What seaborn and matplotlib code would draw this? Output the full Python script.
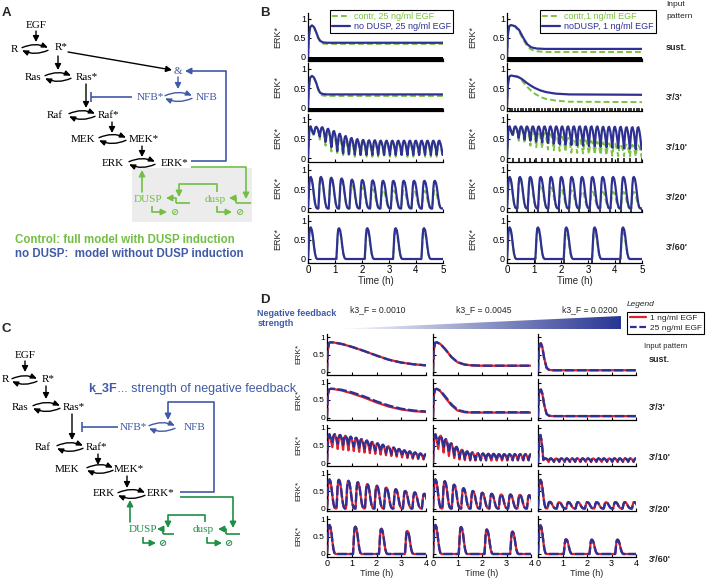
import numpy as np
import matplotlib
matplotlib.use("Agg")
import matplotlib.pyplot as plt
import seaborn as sns
from matplotlib.patches import Polygon, Rectangle
from matplotlib.lines import Line2D
from matplotlib.colors import LinearSegmentedColormap

sns.set_style("ticks")
plt.rcParams['font.family'] = ['Liberation Sans', 'DejaVu Sans']

# ---------------- colours ----------------
BLUE_B = '#2e3192'
GREEN_B = '#7cc242'
BLUE_A = '#3f5aa8'
GREEN_A = '#72bf44'
GREEN_C = '#1f8f47'
RED_D = '#e0202a'

# ---------------- common ----------------
PATTERNS = ["sust.", "3'/3'", "3'/10'", "3'/20'", "3'/60'"]
PERIOD_310 = 0.2167   # h, 3 min on / 10 min off
PERIOD_320 = 0.3833   # h, 3 min on / 20 min off
PERIOD_360 = 1.05     # h, 3 min on / 60 min off
PERIOD_33 = 0.1       # h, 3 min on / 3 min off

# ---------------- Panel B data (25 ng/ml left, 1 ng/ml right) ----------------
B_T_EARLY = [0, 0.03, 0.08, 0.15, 0.22, 0.3, 0.38, 0.45, 0.55, 0.7, 5.0]
B25_SUST_NODUSP = [0, 0.5, 0.78, 0.82, 0.78, 0.65, 0.5, 0.42, 0.38, 0.37, 0.37]
B25_SUST_CONTR = [0, 0.5, 0.78, 0.82, 0.78, 0.65, 0.48, 0.4, 0.35, 0.34, 0.34]
B25_33_NODUSP = [0, 0.5, 0.78, 0.82, 0.78, 0.65, 0.48, 0.38, 0.35, 0.34, 0.34]
B25_33_CONTR = [0, 0.5, 0.78, 0.82, 0.78, 0.64, 0.45, 0.35, 0.31, 0.30, 0.30]

B1_T_SUST = [0, 0.03, 0.08, 0.15, 0.3, 0.45, 0.6, 0.75, 0.9, 1.1, 1.4, 5.0]
B1_SUST_NODUSP = [0, 0.55, 0.8, 0.83, 0.8, 0.7, 0.5, 0.33, 0.25, 0.22, 0.21, 0.21]
B1_SUST_CONTR = [0, 0.55, 0.8, 0.83, 0.79, 0.66, 0.45, 0.28, 0.19, 0.15, 0.13, 0.13]
B1_T_33 = [0, 0.03, 0.08, 0.15, 0.4, 0.55, 0.73, 0.9, 1.05, 1.25, 1.45, 1.8, 2.3, 5.0]
B1_33_NODUSP = [0, 0.55, 0.8, 0.83, 0.8, 0.74, 0.64, 0.56, 0.5, 0.44, 0.4, 0.36, 0.34, 0.33]
B1_33_CONTR = [0, 0.55, 0.8, 0.83, 0.79, 0.7, 0.55, 0.43, 0.35, 0.27, 0.22, 0.18, 0.15, 0.14]

B25_310_NODUSP_PK = [0.82, 0.81, 0.8, 0.76, 0.7, 0.63, 0.57, 0.52, 0.49, 0.47, 0.46, 0.46,
                     0.45, 0.45, 0.45, 0.45, 0.45, 0.45, 0.45, 0.45, 0.45, 0.45, 0.45]
B25_310_NODUSP_TR = [0.62, 0.55, 0.42, 0.28, 0.18, 0.12, 0.1, 0.09, 0.08, 0.08, 0.08, 0.08,
                     0.08, 0.08, 0.08, 0.08, 0.08, 0.08, 0.08, 0.08, 0.08, 0.08, 0.08]
B25_310_CONTR_PK = [0.82, 0.8, 0.77, 0.7, 0.62, 0.53, 0.47, 0.43, 0.41, 0.4, 0.4, 0.4,
                    0.4, 0.4, 0.4, 0.4, 0.4, 0.4, 0.4, 0.4, 0.4, 0.4, 0.4]
B25_310_CONTR_TR = [0.58, 0.48, 0.32, 0.17, 0.08, 0.04, 0.03, 0.03, 0.03, 0.03, 0.03, 0.03,
                    0.03, 0.03, 0.03, 0.03, 0.03, 0.03, 0.03, 0.03, 0.03, 0.03, 0.03]
B1_310_NODUSP_PK = [0.82, 0.82, 0.82, 0.82, 0.82, 0.82, 0.82, 0.82, 0.82, 0.82, 0.82, 0.82,
                    0.82, 0.82, 0.82, 0.82, 0.81, 0.81, 0.81, 0.81, 0.8, 0.8, 0.8]
B1_310_NODUSP_TR = [0.6, 0.52, 0.48, 0.45, 0.43, 0.41, 0.39, 0.37, 0.36, 0.35, 0.34, 0.33,
                    0.32, 0.31, 0.3, 0.29, 0.28, 0.27, 0.26, 0.25, 0.24, 0.23, 0.22]
B1_310_CONTR_PK = [0.82, 0.8, 0.78, 0.75, 0.72, 0.68, 0.65, 0.62, 0.58, 0.55, 0.52, 0.5,
                   0.48, 0.46, 0.44, 0.42, 0.4, 0.38, 0.37, 0.36, 0.35, 0.34, 0.33]
B1_310_CONTR_TR = [0.55, 0.45, 0.38, 0.32, 0.28, 0.25, 0.22, 0.2, 0.18, 0.16, 0.14, 0.13,
                   0.12, 0.1, 0.09, 0.08, 0.07, 0.06, 0.05, 0.05, 0.04, 0.04, 0.03]

B25_320_NODUSP = [0.82, 0.82, 0.8, 0.78, 0.75, 0.74, 0.73, 0.72, 0.72, 0.72, 0.72, 0.72, 0.72]
B25_320_CONTR = [0.82, 0.8, 0.75, 0.68, 0.6, 0.55, 0.5, 0.48, 0.47, 0.46, 0.46, 0.46, 0.46]
B1_320_NODUSP = [0.82, 0.82, 0.82, 0.82, 0.82, 0.82, 0.82, 0.82, 0.82, 0.82, 0.82, 0.82, 0.82]
B1_320_CONTR = [0.82, 0.8, 0.72, 0.62, 0.55, 0.5, 0.47, 0.45, 0.44, 0.43, 0.43, 0.43, 0.43]

B25_360_NODUSP = [0.82, 0.8, 0.8, 0.8, 0.8]
B25_360_CONTR = [0.82, 0.74, 0.7, 0.7, 0.7]
B1_360_NODUSP = [0.82, 0.82, 0.82, 0.82, 0.82]
B1_360_CONTR = [0.82, 0.72, 0.68, 0.68, 0.68]

# ---------------- Panel D data (columns: k3_F = 0.0010, 0.0045, 0.0200) ----------------
K3F_LABELS = ["k3_F = 0.0010", "k3_F = 0.0045", "k3_F = 0.0200"]
D_T_SUST = [[0, 0.03, 0.08, 0.15, 0.3, 0.6, 1.0, 1.5, 2.0, 2.5, 3.0, 3.5, 4.0],
            [0, 0.03, 0.08, 0.15, 0.3, 0.5, 0.75, 1.0, 1.3, 1.6, 2.0, 4.0],
            [0, 0.03, 0.07, 0.12, 0.18, 0.25, 0.35, 0.45, 0.6, 4.0]]
D_SUST = [[0, 0.6, 0.83, 0.85, 0.84, 0.8, 0.72, 0.6, 0.47, 0.35, 0.27, 0.22, 0.19],
          [0, 0.6, 0.83, 0.85, 0.8, 0.65, 0.43, 0.28, 0.21, 0.19, 0.18, 0.18],
          [0, 0.6, 0.8, 0.82, 0.7, 0.4, 0.12, 0.06, 0.05, 0.05]]
D_33_25NG = [[0, 0.6, 0.8, 0.82, 0.82, 0.79, 0.72, 0.6, 0.46, 0.34, 0.25, 0.2, 0.17],
             [0, 0.6, 0.8, 0.82, 0.77, 0.6, 0.38, 0.22, 0.16, 0.15, 0.15, 0.15],
             [0, 0.6, 0.78, 0.8, 0.68, 0.38, 0.1, 0.05, 0.04, 0.04]]
D_33_1NG = [[0, 0.6, 0.8, 0.82, 0.81, 0.77, 0.69, 0.57, 0.43, 0.31, 0.23, 0.18, 0.16],
            [0, 0.6, 0.8, 0.82, 0.75, 0.57, 0.35, 0.2, 0.15, 0.14, 0.14, 0.14],
            [0, 0.6, 0.78, 0.8, 0.67, 0.37, 0.1, 0.05, 0.04, 0.04]]
D_310_PK = [[0.82, 0.82, 0.8, 0.78, 0.75, 0.72, 0.68, 0.64, 0.6, 0.56, 0.52, 0.48, 0.44, 0.4,
             0.36, 0.33, 0.3, 0.27, 0.25],
            [0.82, 0.78, 0.68, 0.56, 0.46, 0.38, 0.33, 0.3, 0.28, 0.27, 0.26, 0.26, 0.25, 0.25,
             0.25, 0.25, 0.25, 0.25, 0.25],
            [0.8, 0.13, 0.13, 0.13, 0.13, 0.13, 0.13, 0.13, 0.13, 0.13, 0.13, 0.13, 0.13, 0.13,
             0.13, 0.13, 0.13, 0.13, 0.13]]
D_310_TR_25NG = [[0.6, 0.55, 0.52, 0.5, 0.47, 0.44, 0.41, 0.38, 0.35, 0.32, 0.29, 0.26, 0.23, 0.2,
                  0.18, 0.16, 0.14, 0.12, 0.1],
                 [0.55, 0.42, 0.3, 0.22, 0.16, 0.12, 0.1, 0.09, 0.09, 0.09, 0.09, 0.09, 0.09, 0.09,
                  0.09, 0.09, 0.09, 0.09, 0.09],
                 [0.1, 0.04, 0.04, 0.04, 0.04, 0.04, 0.04, 0.04, 0.04, 0.04, 0.04, 0.04, 0.04, 0.04,
                  0.04, 0.04, 0.04, 0.04, 0.04]]
D_310_TR_1NG = [[0.45, 0.4, 0.38, 0.36, 0.34, 0.32, 0.3, 0.28, 0.26, 0.24, 0.22, 0.2, 0.18, 0.16,
                 0.14, 0.12, 0.11, 0.1, 0.09],
                [0.4, 0.3, 0.2, 0.14, 0.1, 0.08, 0.07, 0.07, 0.07, 0.07, 0.07, 0.07, 0.07, 0.07,
                 0.07, 0.07, 0.07, 0.07, 0.07],
                [0.08, 0.03, 0.03, 0.03, 0.03, 0.03, 0.03, 0.03, 0.03, 0.03, 0.03, 0.03, 0.03, 0.03,
                 0.03, 0.03, 0.03, 0.03, 0.03]]
D_320_PK = [[0.83, 0.82, 0.79, 0.75, 0.7, 0.65, 0.6, 0.55, 0.5, 0.46, 0.42],
            [0.83, 0.78, 0.68, 0.58, 0.5, 0.45, 0.42, 0.4, 0.4, 0.39, 0.38],
            [0.82, 0.19, 0.18, 0.18, 0.18, 0.18, 0.18, 0.18, 0.18, 0.18, 0.18]]
D_360_PK = [[0.83, 0.78, 0.72, 0.66],
            [0.83, 0.77, 0.7, 0.64],
            [0.82, 0.42, 0.41, 0.41]]

# ---------------- helpers ----------------
W, H = 706, 581
fig = plt.figure(figsize=(W / 100, H / 100), dpi=100)


def px_axes(x0, y0, x1, y1):
    return fig.add_axes([x0 / W, 1 - y1 / H, (x1 - x0) / W, (y1 - y0) / H])


ax0 = px_axes(0, 0, W, H)
ax0.set_xlim(0, W)
ax0.set_ylim(H, 0)
ax0.axis('off')

OFF_LONG = [0, 0.02, 0.045, 0.07, 0.1, 0.14, 0.18, 0.22, 0.26, 0.3, 0.34]
FR_LONG = [0, 0.3, 0.75, 0.97, 1.0, 0.93, 0.72, 0.42, 0.17, 0.04, 0]
OFF_SHORT = [0, 0.02, 0.045, 0.07, 0.1, 0.14, 0.18]
FR_SHORT = [0, 0.35, 0.78, 0.97, 1.0, 0.8, 0.45]


def pulse_curve(period, peaks, troughs, t_end):
    if troughs is None:
        troughs = [0.0] * len(peaks)
    off, fr = (OFF_SHORT, FR_SHORT) if period < 0.3 else (OFF_LONG, FR_LONG)
    ts, ys = [], []
    prev = 0.0
    for i, (pk, tr) in enumerate(zip(peaks, troughs)):
        t0 = i * period
        for o, f in zip(off, fr):
            base = prev + (tr - prev) * o / period
            ts.append(t0 + o)
            ys.append(base + f * (pk - base))
        ts.append(t0 + period)
        ys.append(tr)
        prev = tr
    if ts[-1] < t_end:
        ts.append(t_end)
        ys.append(prev)
    return np.array(ts), np.array(ys)


def line(ax, t, y, color, lw, dashes=None, z=2):
    sns.lineplot(x=np.asarray(t, float), y=np.asarray(y, float), ax=ax, color=color,
                 linewidth=lw, estimator=None, sort=False, legend=False, zorder=z)
    ln = ax.lines[-1]
    if dashes is not None:
        ln.set_dashes(dashes)
    ln.set_solid_capstyle('butt')


def style_axes(ax, xmax, ylim, xlabels, ylabels, fs):
    ax.set_xlim(0, xmax)
    ax.set_ylim(*ylim)
    ax.set_yticks([0, 0.5, 1])
    ax.set_yticklabels(['0', '0.5', '1'] if ylabels else [])
    ax.set_xticks(range(xmax + 1))
    ax.set_xticklabels([str(i) for i in range(xmax + 1)] if xlabels else [])
    ax.tick_params(direction='in', length=2.5, width=0.8, labelsize=fs, pad=1.5, colors='black')
    for s in ['top', 'right']:
        ax.spines[s].set_visible(False)
    for s in ['left', 'bottom']:
        ax.spines[s].set_linewidth(0.9)
        ax.spines[s].set_color('black')
    ax.patch.set_alpha(0)
    ax.set_xlabel('')
    ax.set_ylabel('')


# ---------------- Panel B ----------------
B_COLS = [(308, 443), (507, 642)]
B_ZERO = [57, 107.5, 158, 208.5, 259]
B_SPAN = 38.5
B_YLIM = (-0.1, 1.15)

b_series = [
    {0: (B_T_EARLY, B25_SUST_CONTR, B_T_EARLY, B25_SUST_NODUSP),
     1: (B_T_EARLY, B25_33_CONTR, B_T_EARLY, B25_33_NODUSP),
     2: pulse_curve(PERIOD_310, B25_310_CONTR_PK, B25_310_CONTR_TR, 5)
        + pulse_curve(PERIOD_310, B25_310_NODUSP_PK, B25_310_NODUSP_TR, 5),
     3: pulse_curve(PERIOD_320, B25_320_CONTR, None, 5) + pulse_curve(PERIOD_320, B25_320_NODUSP, None, 5),
     4: pulse_curve(PERIOD_360, B25_360_CONTR, None, 5) + pulse_curve(PERIOD_360, B25_360_NODUSP, None, 5)},
    {0: (B1_T_SUST, B1_SUST_CONTR, B1_T_SUST, B1_SUST_NODUSP),
     1: (B1_T_33, B1_33_CONTR, B1_T_33, B1_33_NODUSP),
     2: pulse_curve(PERIOD_310, B1_310_CONTR_PK, B1_310_CONTR_TR, 5)
        + pulse_curve(PERIOD_310, B1_310_NODUSP_PK, B1_310_NODUSP_TR, 5),
     3: pulse_curve(PERIOD_320, B1_320_CONTR, None, 5) + pulse_curve(PERIOD_320, B1_320_NODUSP, None, 5),
     4: pulse_curve(PERIOD_360, B1_360_CONTR, None, 5) + pulse_curve(PERIOD_360, B1_360_NODUSP, None, 5)},
]
PULSE_PERIODS = [None, PERIOD_33, PERIOD_310, PERIOD_320, PERIOD_360]

for c, (x0, x1) in enumerate(B_COLS):
    for r in range(5):
        z = B_ZERO[r]
        top = z - B_SPAN * B_YLIM[1]
        bot = z - B_SPAN * B_YLIM[0]
        ax = px_axes(x0, top, x1, bot)
        tg, yg, tb, yb = b_series[c][r]
        line(ax, tg, yg, GREEN_B, 1.4, dashes=(3, 1.6), z=2)
        line(ax, tb, yb, BLUE_B, 1.6, z=3)
        style_axes(ax, 5, B_YLIM, r == 4, True, 6.5)
        ax.set_ylabel('ERK*', fontsize=6.5)
        ax.yaxis.set_label_coords(-0.19 if c == 0 else -0.22, 0.5)
        if r == 0 or (c == 0 and r == 1):
            ax.axhspan(-0.1, -0.01, color='black', lw=0, zorder=1)
        elif c == 1:
            P = PULSE_PERIODS[r]
            starts = np.arange(0, 5.0 + 1e-6, P)
            ax.vlines(starts, -0.1, 0.0, color='black', lw=1.1, zorder=1)
        if r == 4:
            ax.set_xlabel('Time (h)', fontsize=7, labelpad=1)
            ax.tick_params(axis='x', labelsize=7)

leg_handles = [Line2D([0], [0], color=GREEN_B, lw=1.4, dashes=(3, 1.6)),
               Line2D([0], [0], color=BLUE_B, lw=1.6)]
for (bx, labs) in [(330, ['contr, 25 ng/ml EGF', 'no DUSP, 25 ng/ml EGF']),
                   (540, ['contr,1 ng/ml EGF', 'noDUSP, 1 ng/ml EGF'])]:
    lg = fig.legend(leg_handles, labs, loc='upper left', bbox_to_anchor=(bx / W, 1 - 10 / H),
                    fontsize=6.5, frameon=True, fancybox=False, edgecolor='black', framealpha=1,
                    borderpad=0.25, labelspacing=0.1, handlelength=2.0, handletextpad=0.4,
                    borderaxespad=0, labelcolor=[GREEN_B, BLUE_B])
    lg.get_frame().set_linewidth(0.8)

ax0.text(666, 5, 'Input', fontsize=6, ha='left', va='center')
ax0.text(666, 16, 'pattern', fontsize=6, ha='left', va='center')
for lab, y in zip(PATTERNS, [47, 97, 147, 197, 248]):
    ax0.text(666, y, lab, fontsize=6.5, weight='bold', ha='left', va='center')

# ---------------- Panel D ----------------
D_COLS = [(327, 426), (433, 531), (538, 636)]
D_ZERO = [372, 417.5, 463, 508.5, 554]
D_SPAN = 35
D_YLIM = (-0.08, 1.1)

for c, (x0, x1) in enumerate(D_COLS):
    curves = [
        ((D_T_SUST[c], D_SUST[c]), (D_T_SUST[c], D_SUST[c])),
        ((D_T_SUST[c], D_33_1NG[c]), (D_T_SUST[c], D_33_25NG[c])),
        (pulse_curve(PERIOD_310, D_310_PK[c], D_310_TR_1NG[c], 4),
         pulse_curve(PERIOD_310, D_310_PK[c], D_310_TR_25NG[c], 4)),
        (pulse_curve(PERIOD_320, D_320_PK[c], None, 4), pulse_curve(PERIOD_320, D_320_PK[c], None, 4)),
        (pulse_curve(PERIOD_360, D_360_PK[c], None, 4), pulse_curve(PERIOD_360, D_360_PK[c], None, 4)),
    ]
    for r in range(5):
        z = D_ZERO[r]
        top = z - D_SPAN * D_YLIM[1]
        bot = z - D_SPAN * D_YLIM[0]
        ax = px_axes(x0, top, x1, bot)
        (tr_, yr_), (tb_, yb_) = curves[r]
        line(ax, tr_, yr_, RED_D, 1.6, z=2)
        line(ax, tb_, yb_, BLUE_B, 1.7, dashes=(4, 1.2), z=3)
        style_axes(ax, 4, D_YLIM, r == 4, c == 0, 6)
        if c == 0:
            ax.set_ylabel('ERK*', fontsize=6)
            ax.yaxis.set_label_coords(-0.25, 0.5)
        if r == 4:
            ax.set_xlabel('Time (h)', fontsize=6.5, labelpad=1)
            ax.tick_params(axis='x', labelsize=6.5)

for lab, x in zip(K3F_LABELS, [378, 484, 590]):
    ax0.text(x, 310, lab, fontsize=6.2, ha='center', va='center')

cmap = LinearSegmentedColormap.from_list('fb', ['#ffffff', '#283593'])
grad = np.linspace(0, 1, 256).reshape(1, -1)
im = ax0.imshow(grad, extent=[337, 621, 329, 316], cmap=cmap, aspect='auto', zorder=1)
wedge = Polygon([[337, 329], [621, 329], [621, 316]], closed=True, facecolor='none',
                edgecolor='none', transform=ax0.transData)
ax0.add_patch(wedge)
im.set_clip_path(wedge)
ax0.text(257, 313, 'Negative feedback', fontsize=6.5, weight='bold', color=BLUE_A, ha='left', va='center')
ax0.text(258, 324, 'strength', fontsize=6.5, weight='bold', color=BLUE_A, ha='left', va='center')

ax0.text(627, 304, 'Legend', fontsize=6, style='italic', ha='left', va='center')
d_handles = [Line2D([0], [0], color=RED_D, lw=1.6), Line2D([0], [0], color=BLUE_B, lw=1.6, dashes=(3, 1.2))]
lgd = fig.legend(d_handles, ['1 ng/ml EGF', '25 ng/ml EGF'], loc='upper left',
                 bbox_to_anchor=(627 / W, 1 - 312 / H), fontsize=6, frameon=True, fancybox=False,
                 edgecolor='black', framealpha=1, borderpad=0.3, labelspacing=0.2,
                 handlelength=2.0, handletextpad=0.4, borderaxespad=0)
lgd.get_frame().set_linewidth(0.8)
ax0.text(666, 347, 'Input pattern', fontsize=5.5, ha='center', va='center')
for lab, y in zip(PATTERNS, [359, 407, 458, 509, 560]):
    ax0.text(649, y, lab, fontsize=6.5, weight='bold', ha='left', va='center')

# ---------------- diagrams A and C ----------------
SERIF = ['Liberation Serif', 'DejaVu Serif']


def T(x, y, s, color='black', size=8):
    ax0.text(x, y, s, color=color, fontsize=size, family=SERIF, ha='center', va='center')


def arr(x0, y0, x1, y1, color='black', lw=1.0):
    ax0.annotate('', xy=(x1, y1), xytext=(x0, y0),
                 arrowprops=dict(arrowstyle='-|>,head_width=0.18,head_length=0.35', color=color,
                                 lw=lw, shrinkA=0, shrinkB=0))


def seg(xs, ys, color='black', lw=1.0):
    ax0.plot(xs, ys, color=color, lw=lw, solid_capstyle='butt')


def rev(xl, xr, y, color='black'):
    kw = dict(arrowstyle='-|>,head_width=0.15,head_length=0.35', color=color, lw=1.0,
              shrinkA=0, shrinkB=0, connectionstyle='arc3,rad=-0.22')
    ax0.annotate('', xy=(xr, y - 1.3), xytext=(xl, y - 1.3), arrowprops=kw)
    ax0.annotate('', xy=(xl, y + 1.3), xytext=(xr, y + 1.3), arrowprops=kw)


def degr(x, y, color):
    ax0.text(x, y, '\u2298', color=color, fontsize=7, family=['DejaVu Sans'], weight='bold',
             ha='center', va='center')


ax0.text(6, 13, 'A', fontsize=9.5, weight='bold', ha='center', va='center')
ax0.text(265, 13, 'B', fontsize=9.5, weight='bold', ha='center', va='center')
ax0.text(6, 329, 'C', fontsize=9.5, weight='bold', ha='center', va='center')
ax0.text(265, 300, 'D', fontsize=9.5, weight='bold', ha='center', va='center')

# Panel A
ax0.add_patch(Rectangle((132, 168), 120, 54, facecolor='#ececec', edgecolor='none', zorder=0))
T(36, 25, 'EGF'); arr(36, 31, 36, 42)
T(14, 49, 'R'); rev(22, 48, 49); T(61, 48, 'R*')
arr(58, 56, 58, 70)
T(33, 77, 'Ras'); rev(45, 71, 77); T(87, 77, 'Ras*')
arr(68, 52, 172, 70)
T(178, 71, '&', BLUE_A)
seg([191, 226, 226], [161, 161, 71], BLUE_A, 1.2); arr(226, 71, 185, 71, BLUE_A, 1.2)
arr(178, 77, 178, 89, BLUE_A)
T(150, 97, 'NFB*', BLUE_A); rev(165, 192, 97, BLUE_A); T(207, 97, 'NFB', BLUE_A)
seg([132, 91], [97, 97], BLUE_A, 1.2); seg([91, 91], [92, 102], BLUE_A, 1.2)
arr(86, 84, 86, 108)
T(55, 115, 'Raf'); rev(69, 95, 115); T(109, 115, 'Raf*')
arr(112, 122, 112, 133)
T(83, 139, 'MEK'); rev(99, 126, 139); T(144, 139, 'MEK*')
arr(142, 146, 142, 157)
T(113, 163, 'ERK'); rev(129, 155, 163); T(175, 163, 'ERK*')
seg([191, 246], [167, 167], GREEN_A, 1.2); arr(246, 167, 246, 199, GREEN_A, 1.2)
T(148, 199, 'DUSP', GREEN_A); T(215, 199, 'dusp', GREEN_A)
seg([236, 251], [203, 203], GREEN_A, 1.2); seg([236, 236], [203, 198], GREEN_A, 1.2); arr(236, 198, 229, 198, GREEN_A, 1.2)
seg([176, 190], [203, 203], GREEN_A, 1.2); seg([176, 176], [203, 198], GREEN_A, 1.2); arr(176, 198, 166, 198, GREEN_A, 1.2)
seg([217, 217, 179], [192, 184, 184], GREEN_A, 1.2); arr(179, 184, 179, 197, GREEN_A, 1.2)
seg([152, 152], [206, 212], GREEN_A, 1.2); arr(152, 212, 167, 212, GREEN_A, 1.2); degr(174, 212, GREEN_A)
seg([217, 217], [206, 212], GREEN_A, 1.2); arr(217, 212, 232, 212, GREEN_A, 1.2); degr(239, 212, GREEN_A)
arr(142, 192, 142, 170, GREEN_A, 1.2)
ax0.text(15, 240, 'Control: full model with DUSP induction', color=GREEN_A, weight='bold', fontsize=8.3,
         ha='left', va='center')
ax0.text(15, 254, 'no DUSP:  model without DUSP induction', color=BLUE_A, weight='bold', fontsize=8.3,
         ha='left', va='center')

# Panel C
T(25, 355, 'EGF'); arr(25, 361, 25, 372)
T(5, 380, 'R'); rev(12, 37, 380); T(48, 380, 'R*')
arr(46, 386, 46, 399)
T(20, 407, 'Ras'); rev(33, 60, 407); T(74, 407, 'Ras*')
arr(72, 414, 72, 440)
seg([118, 82], [427, 427], BLUE_A, 1.2); seg([82, 82], [422, 432], BLUE_A, 1.2)
T(133, 427, 'NFB*', BLUE_A); rev(149, 175, 427, BLUE_A); T(195, 427, 'NFB', BLUE_A)
T(43, 447, 'Raf'); rev(57, 83, 447); T(96, 447, 'Raf*')
arr(98, 454, 98, 465)
T(67, 469, 'MEK'); rev(87, 113, 469); T(129, 469, 'MEK*')
arr(127, 476, 127, 488)
T(104, 494, 'ERK'); rev(118, 145, 494); T(161, 494, 'ERK*')
seg([180, 214, 214, 168], [492, 492, 402, 402], BLUE_A, 1.2); arr(168, 402, 168, 420, BLUE_A, 1.2)
ax0.text(88, 389, 'k_3F', color=BLUE_A, weight='bold', fontsize=9, ha='left', va='center')
ax0.text(114, 389, ' ... strength of negative feedback', color=BLUE_A, fontsize=9, ha='left', va='center')
seg([180, 233], [497, 497], GREEN_C, 1.2); arr(233, 497, 233, 528, GREEN_C, 1.2)
T(143, 530, 'DUSP', GREEN_C); T(203, 530, 'dusp', GREEN_C)
arr(130, 522, 130, 500, GREEN_C, 1.2)
seg([163, 174], [534, 534], GREEN_C, 1.2); seg([163, 163], [534, 529], GREEN_C, 1.2); arr(163, 529, 157, 529, GREEN_C, 1.2)
seg([205, 205, 168], [522, 515, 515], GREEN_C, 1.2); arr(168, 515, 168, 528, GREEN_C, 1.2)
seg([226, 240], [534, 534], GREEN_C, 1.2); seg([226, 226], [534, 529], GREEN_C, 1.2); arr(226, 529, 218, 529, GREEN_C, 1.2)
seg([143, 143], [537, 543], GREEN_C, 1.2); arr(143, 543, 156, 543, GREEN_C, 1.2); degr(162, 543, GREEN_C)
seg([207, 207], [537, 543], GREEN_C, 1.2); arr(207, 543, 222, 543, GREEN_C, 1.2); degr(228, 543, GREEN_C)

ax0.set_xlim(0, W)
ax0.set_ylim(H, 0)

fig.savefig('out.png', dpi=100)
